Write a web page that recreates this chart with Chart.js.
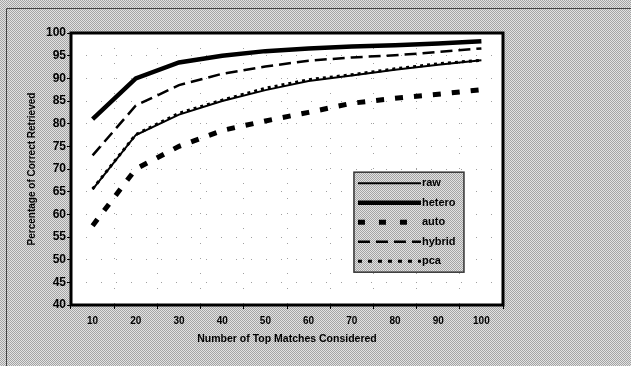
<!DOCTYPE html>
<html>
<head>
<meta charset="utf-8">
<script src="https://cdn.jsdelivr.net/npm/chart.js@4/dist/chart.umd.min.js"></script>
<style>
  html, body { margin: 0; padding: 0; background: #c4c4c4; }
  #wrap { width: 631px; height: 366px; }
</style>
</head>
<body>
<div id="wrap"><canvas id="matches" width="631" height="366"></canvas></div>
<script>
const topMatches = ['10', '20', '30', '40', '50', '60', '70', '80', '90', '100']
const raw = [65.5, 77.5, 82, 85, 87.4, 89.4, 90.6, 91.9, 93, 94]
const hetero = [81, 90, 93.5, 95, 96, 96.6, 97, 97.3, 97.7, 98.2]
const auto = [57.5, 70, 75, 78.5, 80.6, 82.5, 84.5, 85.6, 86.5, 87.5]
const hybrid = [73, 84, 88.5, 91, 92.6, 93.9, 94.6, 95.1, 95.8, 96.6]
const pca = [65.6, 77.6, 82.3, 85.2, 87.8, 89.7, 90.8, 92.1, 93.2, 94]
const yTicks = [40, 45, 50, 55, 60, 65, 70, 75, 80, 85, 90, 95, 100]

const font = '"Liberation Sans", Arial, sans-serif'

// dithered grey like the scanned original
const pat = document.createElement('canvas')
pat.width = 2
pat.height = 2
const pc = pat.getContext('2d')
pc.fillStyle = '#e2e2e2'
pc.fillRect(0, 0, 2, 2)
pc.fillStyle = '#a4a4a4'
pc.fillRect(0, 0, 1, 1)
pc.fillRect(1, 1, 1, 1)

// legend swatches are drawn a bit differently from the plotted lines
const legendDash = { auto: [7, 14], pca: [4, 6] }

const backdrop = {
  id: 'backdrop',
  beforeDraw (chart) {
    const ctx = chart.ctx
    const a = chart.chartArea
    ctx.save()
    ctx.fillStyle = ctx.createPattern(pat, 'repeat')
    ctx.fillRect(0, 0, chart.width, chart.height)
    ctx.strokeStyle = '#444'
    ctx.lineWidth = 1
    ctx.beginPath()
    ctx.moveTo(6.5, chart.height)
    ctx.lineTo(6.5, 8.5)
    ctx.lineTo(chart.width, 8.5)
    ctx.stroke()
    ctx.fillStyle = '#fff'
    ctx.fillRect(a.left, a.top, a.right - a.left, a.bottom - a.top)
    ctx.restore()
  },
  afterDraw (chart) {
    const ctx = chart.ctx
    const a = chart.chartArea
    ctx.save()
    ctx.strokeStyle = '#000'
    ctx.lineWidth = 3
    ctx.strokeRect(a.left, a.top, a.right - a.left, a.bottom - a.top)

    // legend box inside the plot
    const x = chart.scales.x.getPixelForValue(6.05)
    const y = chart.scales.y.getPixelForValue(69.3)
    const w = 110
    const h = 100
    ctx.fillStyle = ctx.createPattern(pat, 'repeat')
    ctx.fillRect(x, y, w, h)
    ctx.strokeStyle = '#333'
    ctx.lineWidth = 1.5
    ctx.strokeRect(x, y, w, h)
    ctx.font = 'bold 11px ' + font
    ctx.textBaseline = 'middle'
    chart.data.datasets.forEach((ds, i) => {
      const ly = y + 11 + i * 19.5
      ctx.strokeStyle = '#000'
      ctx.lineWidth = ds.borderWidth
      ctx.setLineDash(legendDash[ds.label] || ds.borderDash || [])
      ctx.beginPath()
      ctx.moveTo(x + 4, ly)
      ctx.lineTo(x + 67, ly)
      ctx.stroke()
      ctx.setLineDash([])
      ctx.fillStyle = '#000'
      ctx.fillText(ds.label, x + 68, ly)
    })
    ctx.restore()
  }
}

const line = (label, data, width, dash) => ({
  label,
  data,
  borderColor: '#000',
  backgroundColor: '#000',
  borderWidth: width,
  borderDash: dash,
  borderCapStyle: 'butt',
  pointRadius: 0,
  tension: 0,
  fill: false
})

new Chart(document.getElementById('matches'), {
  type: 'line',
  data: {
    labels: topMatches,
    datasets: [
      line('raw', raw, 2, []),
      line('hetero', hetero, 4.5, []),
      line('auto', auto, 5, [8, 11]),
      line('hybrid', hybrid, 2.5, [12, 6]),
      line('pca', pca, 3, [3, 4])
    ]
  },
  plugins: [backdrop],
  options: {
    responsive: false,
    animation: false,
    layout: { padding: { left: 22, top: 33, right: 128, bottom: 17 } },
    plugins: {
      legend: { display: false },
      tooltip: { enabled: false }
    },
    scales: {
      x: {
        type: 'category',
        offset: true,
        afterFit (s) { s.height = 44 },
        grid: {
          offset: true,
          color: '#a0a0a0',
          tickColor: '#000',
          tickLength: 4,
          drawTicks: true
        },
        border: { display: false, dash: [1, 14] },
        ticks: {
          color: '#000',
          padding: 6,
          maxRotation: 0,
          font: { family: font, size: 10, weight: 'bold' }
        },
        title: {
          display: true,
          text: 'Number of Top Matches Considered',
          color: '#000',
          padding: { top: 6 },
          font: { family: font, size: 10.5, weight: 'bold' }
        }
      },
      y: {
        min: 40,
        max: 100,
        afterFit (s) { s.width = 49 },
        afterBuildTicks (s) { s.ticks = yTicks.map(v => ({ value: v })) },
        grid: {
          color: '#a0a0a0',
          tickColor: '#000',
          tickLength: 4,
          drawTicks: true
        },
        border: { display: false, dash: [1, 14] },
        ticks: {
          color: '#000',
          padding: 1,
          font: { family: font, size: 12, weight: 'bold' }
        },
        title: {
          display: true,
          text: 'Percentage of Correct Retrieved',
          color: '#000',
          padding: { bottom: 0 },
          font: { family: font, size: 10, weight: 'bold' }
        }
      }
    }
  }
})
</script>
</body>
</html>
